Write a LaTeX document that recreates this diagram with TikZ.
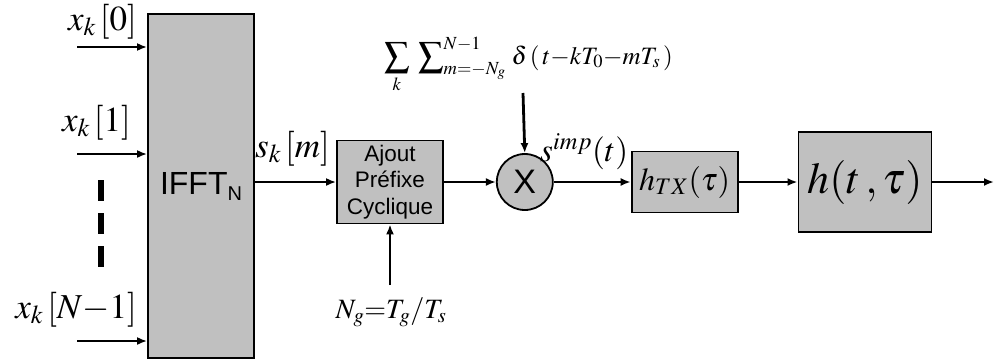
\documentclass[tikz,border=0pt]{standalone}
\usepackage{amsmath}
\usepackage{mathptmx}
\usepackage{fontspec}
\setsansfont{Liberation Sans}
\usepackage{tikz}
\usetikzlibrary{positioning,arrows.meta}

\definecolor{BlockGray}{RGB}{192,192,192}

\begin{document}
\begin{tikzpicture}[
x=1pt, y=-1pt,
blockbox/.style={draw, line width=1.8pt, fill=BlockGray, inner sep=0pt, align=center},
arrow/.style={-{Latex[length=10pt,width=8pt]}, line width=2.8pt},
mlabel/.style={inner sep=0pt, font=\fontsize{35}{42}\selectfont}
]
\useasboundingbox (0,0) rectangle (994,362);

% blocks
\node[blockbox, minimum width=106pt, minimum height=344pt,
      font=\sffamily\fontsize{32}{38}\selectfont] (ifft) at (201,186)
      {IFFT\raisebox{-6pt}{\fontsize{20}{24}\selectfont N}};
\node[blockbox, minimum width=106pt, minimum height=83pt,
      font=\sffamily\fontsize{22.5}{26.5}\selectfont] (cp) at (390,182)
      {Ajout\\Préfixe\\Cyclique};
\node[blockbox, circle, minimum size=56pt,
      font=\sffamily\fontsize{34}{38}\selectfont, right=52pt of cp] (mult) {X};
\node[blockbox, minimum width=106pt, minimum height=61pt,
      font=\fontsize{32}{38}\selectfont, right=77pt of mult] (htx) {$h_{TX}(\tau)$};
\node[blockbox, minimum width=133pt, minimum height=100pt,
      font=\fontsize{44}{52}\selectfont, right=59pt of htx] (chan) {$h(t\,,\tau)$};

% inputs of the IFFT
\coordinate (in0) at (77,47);
\coordinate (in1) at (77,154);
\coordinate (in2) at (77,341);
\coordinate (out) at (994,182);
\foreach \i in {0,1,2}
  \draw[arrow] (in\i) -- (in\i -| ifft.west);
\node[mlabel, anchor=base east] (lx0) at (137,30) {$x_k\,[0]$};
\node[mlabel, anchor=base east] (lx1) at (131,131) {$x_k\,[1]$};
\node[mlabel, anchor=base east] (lx2) at (137,318) {$x_k\,[N{-}1]$};
\coordinate (dots top) at (101,180);
\coordinate (dots bot) at (101,268);
\draw[line width=6pt, dash pattern=on 21pt off 12pt] (dots top) -- (dots bot);

% main chain
\draw[arrow] (ifft.east |- cp.west) -- (cp.west);
\node[mlabel, anchor=base west] (lsk) at (255,157) {$s_k\,[m]$};
\draw[arrow] (cp) -- (mult);
\draw[arrow] (mult) -- (htx);
\node[mlabel, anchor=base west, font=\fontsize{33}{40}\selectfont] (limp) at (540,161) {$s^{imp}(t)$};
\draw[arrow] (htx) -- (chan);
\draw[arrow] (chan) -- (out);

% side inputs
\node[inner sep=0pt, anchor=base east, font=\fontsize{25}{30}\selectfont] (comb) at (673,64)
  {$\displaystyle\sum_k\;\sum\nolimits_{m=-N_g}^{N-1}\,\delta\,(\,t{-}kT_0{-}mT_s\,)$};
\coordinate (comb end) at (523,93);
\draw[arrow] (comb end) -- (mult.north);
\node[inner sep=0pt, anchor=base, font=\fontsize{28}{33}\selectfont] (ng) at (391,318)
  {$N_g{=}T_g/T_s$};
\coordinate (ng end) at (390,285);
\draw[arrow] (ng end) -- (cp.south);
\end{tikzpicture}
\end{document}
